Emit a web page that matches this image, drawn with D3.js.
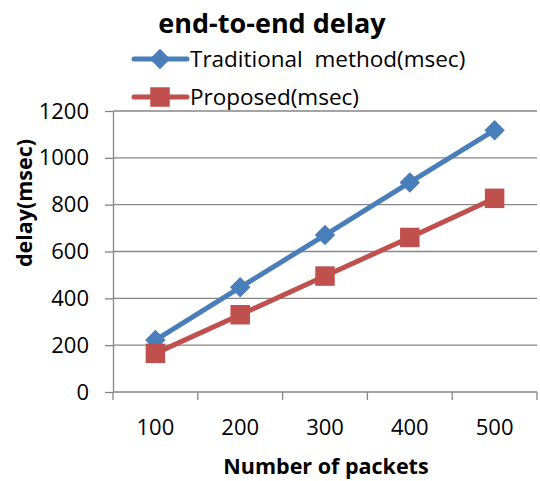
<!DOCTYPE html>
<html><head><meta charset="utf-8">
<script src="https://cdn.jsdelivr.net/npm/d3@7"></script>
<style>html,body{margin:0;padding:0;background:#fff;}</style>
</head><body>
<svg id="c" width="540" height="481"></svg>
<script>
const categories = ["100", "200", "300", "400", "500"];
const traditional = [222, 447, 670, 895, 1118];
const proposed = [165, 330, 495, 660, 827];
const yTicks = [0, 200, 400, 600, 800, 1000, 1200];
const seriesNames = ["Traditional  method(msec)", "Proposed(msec)"];
const titleText = "end-to-end delay";
const xTitle = "Number of packets";
const yTitle = "delay(msec)";

(function () {
const font = "'Open Sans', 'Liberation Sans', sans-serif";
const svg = d3.select("#c");
const pLeft = 113, pRight = 537, pTop = 111, pBottom = 392;
const x = d3.scaleBand().domain(categories).range([pLeft, pRight]);
const y = d3.scaleLinear().domain([0, 1200]).range([pBottom, pTop]);
const gray = "#868686";

// gridlines
svg.append("g").selectAll("line").data(yTicks).join("line")
  .attr("x1", pLeft).attr("x2", pRight)
  .attr("y1", d => y(d)).attr("y2", d => y(d))
  .attr("stroke", gray).attr("stroke-width", 1.3);

// y axis
const ya = svg.append("g").attr("transform", `translate(${pLeft},0)`)
  .call(d3.axisLeft(y).tickValues(yTicks).tickFormat(d3.format("d")).tickSize(8).tickPadding(16).tickSizeOuter(0));
ya.select(".domain").attr("stroke", gray).attr("stroke-width", 1.3);
ya.selectAll(".tick line").attr("stroke", gray).attr("stroke-width", 1.3);
ya.selectAll("text").attr("font-family", font).attr("font-size", 22).attr("fill", "#000");

// x axis
const xa = svg.append("g").attr("transform", `translate(0,${pBottom})`)
  .call(d3.axisBottom(x).tickSize(0).tickPadding(27));
xa.select(".domain").remove();
xa.selectAll("text").attr("font-family", font).attr("font-size", 22).attr("fill", "#000");
const edges = categories.map(c => x(c)).concat([x(categories[categories.length-1]) + x.bandwidth()]);
svg.append("g").selectAll("line").data(edges).join("line")
  .attr("x1", d => d).attr("x2", d => d).attr("y1", pBottom).attr("y2", pBottom + 8)
  .attr("stroke", gray).attr("stroke-width", 1.3);

const cx = c => x(c) + x.bandwidth() / 2;
const blue = "#4A7EBB", red = "#C0504D";
const line = d3.line().x((d, i) => cx(categories[i])).y(d => y(d));

svg.append("path").datum(traditional).attr("d", line)
  .attr("fill", "none").attr("stroke", blue).attr("stroke-width", 5);
svg.append("path").datum(proposed).attr("d", line)
  .attr("fill", "none").attr("stroke", red).attr("stroke-width", 5);

const diamond = d3.symbol().type(d3.symbolSquare).size(210);
svg.append("g").selectAll("path").data(traditional).join("path")
  .attr("d", diamond)
  .attr("transform", (d, i) => `translate(${cx(categories[i])},${y(d)}) rotate(45)`)
  .attr("fill", blue);
const square = d3.symbol().type(d3.symbolSquare).size(380);
svg.append("g").selectAll("path").data(proposed).join("path")
  .attr("d", square)
  .attr("transform", (d, i) => `translate(${cx(categories[i])},${y(d)})`)
  .attr("fill", red);

// title
svg.append("text").attr("x", 272).attr("y", 33).attr("text-anchor", "middle")
  .attr("font-family", font).attr("font-weight", "bold").attr("font-size", 27)
  .text(titleText);

// legend
const legY = [59, 97];
const legColors = [blue, red];
legY.forEach((ly, i) => {
  svg.append("line").attr("x1", 134).attr("x2", 187).attr("y1", ly).attr("y2", ly)
    .attr("stroke", legColors[i]).attr("stroke-width", 5).attr("stroke-linecap", "round");
  svg.append("path").attr("d", i === 0 ? diamond : square)
    .attr("transform", `translate(160,${ly})` + (i === 0 ? " rotate(45)" : ""))
    .attr("fill", legColors[i]);
  svg.append("text").attr("x", 190).attr("y", ly + 8)
    .attr("font-family", font).attr("font-size", 22.5).attr("fill", "#000")
    .style("white-space", "pre")
    .text(seriesNames[i]);
});

// axis titles
svg.append("text").attr("x", 326).attr("y", 474).attr("text-anchor", "middle")
  .attr("font-family", font).attr("font-weight", "bold").attr("font-size", 21.5)
  .text(xTitle);
svg.append("text").attr("transform", "translate(32,203) rotate(-90)").attr("text-anchor", "middle")
  .attr("font-family", font).attr("font-weight", "bold").attr("font-size", 21.5)
  .text(yTitle);
})();
</script>
</body></html>
